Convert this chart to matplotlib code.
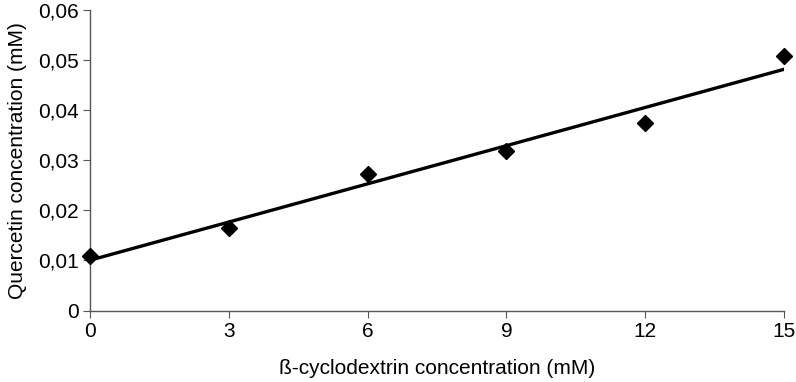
import numpy as np
import matplotlib.pyplot as plt
from matplotlib.ticker import FuncFormatter

# beta-cyclodextrin (mM) vs quercetin (mM)
cd_conc = [0, 3, 6, 9, 12, 15]
quercetin = [0.0109, 0.0165, 0.0272, 0.0318, 0.0374, 0.0508]
x_ticks = [0, 3, 6, 9, 12, 15]
y_ticks = [0, 0.01, 0.02, 0.03, 0.04, 0.05, 0.06]

plt.rcParams['font.family'] = ['Liberation Sans', 'DejaVu Sans']

fig = plt.figure(figsize=(7.96, 3.82), dpi=100)
ax = fig.add_axes([0.113, 0.187, 0.872, 0.787])

# linear trendline
slope, intercept = np.polyfit(cd_conc, quercetin, 1)
xs = np.array([cd_conc[0], cd_conc[-1]])
ax.plot(xs, slope * xs + intercept, color='black', lw=2.4, zorder=2)
ax.plot(cd_conc, quercetin, 'D', color='black', ms=8, zorder=3, clip_on=False)

ax.set_xlim(0, 15)
ax.set_ylim(0, 0.06)
ax.set_xticks(x_ticks)
ax.set_yticks(y_ticks)
ax.yaxis.set_major_formatter(FuncFormatter(
    lambda v, p: '0' if v == 0 else ('%.2f' % v).replace('.', ',')))

for s in ['top', 'right']:
    ax.spines[s].set_visible(False)
for s in ['left', 'bottom']:
    ax.spines[s].set_color('#555555')
    ax.spines[s].set_linewidth(1)
ax.tick_params(direction='out', length=5, color='#555555', labelsize=15, pad=3)

ax.set_xlabel('ß-cyclodextrin concentration (mM)', fontsize=15, labelpad=13)
ax.set_ylabel('Quercetin concentration (mM)', fontsize=15, labelpad=8)

fig.savefig('out.png', dpi=100)
